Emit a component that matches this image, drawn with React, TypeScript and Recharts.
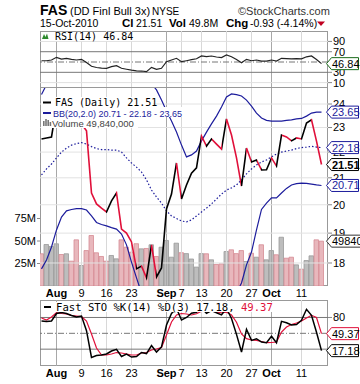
import React from 'react';
import { ComposedChart, Line, Bar, Cell, XAxis, YAxis, ReferenceLine, ReferenceDot } from 'recharts';

const dates = ['Jul 28','Jul 29','Jul 30','Aug 2','Aug 3','Aug 4','Aug 5','Aug 6','Aug 9','Aug 10','Aug 11','Aug 12','Aug 13','Aug 16','Aug 17','Aug 18','Aug 19','Aug 20','Aug 23','Aug 24','Aug 25','Aug 26','Aug 27','Aug 30','Aug 31','Sep 1','Sep 2','Sep 3','Sep 7','Sep 8','Sep 9','Sep 10','Sep 13','Sep 14','Sep 15','Sep 16','Sep 17','Sep 20','Sep 21','Sep 22','Sep 23','Sep 24','Sep 27','Sep 28','Sep 29','Sep 30','Oct 1','Oct 4','Oct 5','Oct 6','Oct 7','Oct 8','Oct 11','Oct 12','Oct 13','Oct 14','Oct 15'];
const tickIdx = [3, 8, 13, 18, 25, 28, 32, 37, 42, 46, 52];
const tickLabels = ['Aug', '9', '16', '23', 'Sep', '7', '13', '20', '27', 'Oct', '11'];
const monthLabels = ['Aug', 'Sep', 'Oct'];

const prevClose = 22.7;
const close = [22.53,22.57,22.61,23.90,23.60,24.10,23.80,23.10,23.15,22.86,20.43,20.03,19.88,19.74,20.14,20.43,19.14,19.00,18.70,17.81,17.90,17.52,18.60,17.55,17.84,19.85,20.39,21.57,20.21,20.73,21.18,21.38,22.65,22.24,22.53,22.32,22.12,23.36,22.69,21.77,20.69,22.16,21.61,21.69,21.30,21.31,21.77,21.45,22.69,22.61,22.45,22.57,22.53,23.19,23.32,22.44,21.51];
const bbUpper = [24.42,24.85,25.0,25.2,25.4,25.5,25.5,25.5,25.5,25.5,25.6,25.7,25.8,25.9,25.9,25.9,26.0,25.9,25.8,25.6,25.4,25.2,24.9,24.62,24.17,23.70,23.27,22.81,22.28,21.81,21.89,22.04,22.45,22.81,23.15,23.48,23.87,24.31,24.44,24.41,24.35,24.17,23.91,23.61,23.40,23.30,23.27,23.27,23.27,23.30,23.32,23.36,23.38,23.48,23.61,23.65,23.65];
const bbMid = [21.11,21.34,21.53,21.77,22.00,22.16,22.28,22.34,22.38,22.32,22.22,22.14,22.10,22.10,22.08,22.08,22.00,21.77,21.57,21.41,21.22,20.92,20.54,20.28,20.06,19.78,19.60,19.51,19.42,19.39,19.46,19.60,19.74,19.88,20.03,20.21,20.39,20.54,20.62,20.73,20.92,21.15,21.34,21.49,21.61,21.69,21.81,21.92,22.00,22.04,22.08,22.14,22.18,22.20,22.23,22.20,22.18];
const bbLower = [17.81,18.10,18.53,19.11,19.56,19.78,19.83,19.86,19.86,19.81,19.60,19.37,19.30,19.25,19.19,19.14,18.97,18.60,18.03,17.52,17.05,16.65,16.20,15.94,15.95,15.86,15.93,16.21,16.56,16.97,17.03,17.16,17.03,16.95,16.91,16.94,16.91,16.77,16.80,17.05,17.36,17.94,18.36,19.11,19.83,20.06,20.25,20.25,20.43,20.60,20.73,20.78,20.80,20.79,20.76,20.73,20.71];
const volume = [35.8,46.1,43.9,46.9,35,35.8,27.6,51.3,22.8,39.4,56.1,36.9,32.8,27.6,33.9,30.2,51.3,43.1,37.6,47,41.3,41.7,45.8,32.8,43.1,50.6,32,47.6,37,36,30,21,36,35.8,29.1,23.9,24.6,38.3,40.2,36,39.4,27.2,36.5,32,45.8,29.1,39.4,34.7,54.2,30.9,32,23.5,18.7,28.3,33.5,51.3,49.84];
const rsi = [52.5,52.5,53.9,59.1,55.8,57.2,55.2,53.9,55.2,49.0,41.7,39.3,38.3,37.8,40.9,42.8,37.8,36.0,34.1,32.9,32.5,31.2,39.7,35.8,37.8,50.6,53.9,57.2,50.6,52.5,54.5,56.4,61.7,60.3,61.7,59.7,58.7,63.6,60.3,54.9,48.6,55.2,52.5,53.9,51.9,51.9,53.9,51.9,57.2,56.6,56.2,56.6,56.2,60.1,61.7,54.9,46.84];
const stoK = [73.3,72.3,73.3,87.5,89.4,87.5,83.7,80.9,82.8,55,4.2,8,8.9,10.8,16.5,19.7,6.1,10.8,5.1,6.1,13.6,11.7,26.9,14.6,24.1,65.7,87.5,97,75.2,80,88,90,98,88,93,89,85,97,78,48,14.6,57.6,36.7,39.8,33.5,32.2,44.3,32.2,72.7,70.1,65.7,66.7,74.6,95.5,84.1,52,17.18];
const stoD = [79,75.2,80.9,89,87.5,86.6,83.7,82.8,81.8,73.3,48.7,22.2,8.9,8.9,10.8,13.6,12.7,10.8,8.9,8.9,12.7,13.6,18.4,20.3,23.1,46.8,71.4,84.7,87.5,86.6,84.7,87,92,94,93,90,89,90,85,71,48.7,40,37.3,36.7,34.5,32.2,32.6,33.5,52.5,61.9,66.7,69.5,73.3,79,84.1,80,49.37];

const priceTicks = [18, 19, 20, 21, 22, 23, 24];
const volTicks = [25, 50, 75];
const rsiTicks = [10, 30, 70, 90];
const stoTicks = [80];

const RED = '#e0103a';
const NAVY = '#1c1c9c';
const FONT = 'Liberation Sans, Arial, sans-serif';
const MONO = 'DejaVu Sans Mono, monospace';
const N = close.length;
const last = N - 1;
const X_DOMAIN: [number, number] = [-0.3, 57.3];
const RSI_DOMAIN: [number, number] = [1.5, 110.2];
const STO_DOMAIN: [number, number] = [-11.9, 113.1];
const PRICE_DOMAIN: [number, number] = [17.266, 24.705];
const VOL_DOMAIN: [number, number] = [0, 220];

const data = dates.map((d, i) => ({
  i,
  date: d,
  close: close[i],
  up: bbUpper[i],
  mid: bbMid[i],
  low: bbLower[i],
  vol: volume[i],
  rsi: rsi[i],
  k: stoK[i],
  d: stoD[i],
}));

const isDown = (i: number) => close[i] < (i === 0 ? prevClose : close[i - 1]);

const DateTick = (props: any) => {
  const { x, y, payload } = props;
  const label = tickLabels[tickIdx.indexOf(payload.value)];
  const bold = monthLabels.includes(label);
  return (
    <text x={x} y={y + 11} textAnchor="middle" fontSize={11} fontWeight={bold ? 'bold' : 'normal'} fontFamily={FONT} fill="#000">
      {label}
    </text>
  );
};

const makeTag = (text: string, color: string, textColor: string, w: number, bold = false) => (props: any) => {
  const { cx, cy } = props;
  if (cx == null || cy == null) return null;
  const x0 = cx + 5;
  const h = 6;
  return (
    <g>
      <polygon
        points={`${x0},${cy} ${x0 + 5},${cy - h} ${x0 + w},${cy - h} ${x0 + w},${cy + h} ${x0 + 5},${cy + h}`}
        fill="#fff"
        stroke={color}
        strokeWidth={1}
      />
      <text x={x0 + 5.5} y={cy + 4} fontSize={11} fontFamily={FONT} fontWeight={bold ? 'bold' : 'normal'} fill={textColor}>
        {text}
      </text>
    </g>
  );
};

const vGrid = (key: string) =>
  tickIdx.map((t, j) => (
    <ReferenceLine
      key={key + t}
      x={t}
      stroke={monthLabels.includes(tickLabels[j]) ? '#a8a8a8' : '#d8d8d8'}
      strokeWidth={1}
      {...(key === 'p' ? { yAxisId: 'price' } : {})}
    />
  ));

const segStops = close.slice(1).flatMap((c, j) => {
  const col = c >= close[j] ? '#000' : RED;
  return [
    <stop key={`a${j}`} offset={j / (N - 1)} stopColor={col} />,
    <stop key={`b${j}`} offset={(j + 1) / (N - 1)} stopColor={col} />,
  ];
});

const fmtInt = (v: number) => Math.round(v * 1e6).toLocaleString('en-US');
const volTagText = String(Math.round(volume[last] * 1e6)).slice(0, 5);

const tickStyle = { fontSize: 11, fill: '#000', fontFamily: FONT };
const abs = (top: number): React.CSSProperties => ({ position: 'absolute', left: 0, top });

export default function App() {
  return (
    <div style={{ position: 'absolute', left: 0, top: 0, width: 360, height: 384, overflow: 'hidden', background: '#fff' }}>
      {/* underlay: borders + header */}
      <svg width={360} height={384} style={{ position: 'absolute', left: 0, top: 0 }}>
        <text x={40} y={15} fontSize={14} fontWeight="bold" fontFamily={FONT} fill="#000">FAS</text>
        <text x={70} y={15} fontSize={11} fontFamily={FONT} fill="#000">(DD Finl Bull 3x)</text>
        <text x={152} y={15} fontSize={10} fontFamily={FONT} fill="#000">NYSE</text>
        <text x={238} y={15} fontSize={11} fontFamily={FONT} fill="#333">©StockCharts.com</text>
        <text x={40} y={27} fontSize={10.5} fontFamily={FONT} fill="#000">15-Oct-2010</text>
        <text x={122} y={27} fontSize={11.5} fontWeight="bold" fontFamily={FONT} fill="#000">Cl</text>
        <text x={136} y={27} fontSize={10.5} fontFamily={FONT} fill="#000">{close[last].toFixed(2)}</text>
        <text x={169} y={27} fontSize={11.5} fontWeight="bold" fontFamily={FONT} fill="#000">Vol</text>
        <text x={189} y={27} fontSize={10.5} fontFamily={FONT} fill="#000">{volume[last].toFixed(1)}M</text>
        <text x={226} y={27} fontSize={11.5} fontWeight="bold" fontFamily={FONT} fill="#000">Chg</text>
        <text x={250} y={27} fontSize={10.5} fontFamily={FONT} fill="#000">
          {(close[last] - close[last - 1]).toFixed(2)} ({(((close[last] - close[last - 1]) / close[last - 1]) * 100).toFixed(2)}%)
        </text>
        <polygon points="317,21.5 325,21.5 321,26" fill="#c00020" />
        <rect x={40.5} y={31.5} width={287} height={56} fill="none" stroke="#999" />
        <rect x={40.5} y={87.5} width={287} height={198} fill="none" stroke="#999" />
        <rect x={40.5} y={300.5} width={287} height={65} fill="none" stroke="#999" />
      </svg>

      {/* RSI panel */}
      <div style={abs(31)}>
        <ComposedChart width={360} height={57} data={data} margin={{ top: 0, right: 0, bottom: 1, left: 40 }}>
          <XAxis type="number" dataKey="i" domain={X_DOMAIN} hide allowDataOverflow />
          <YAxis
            orientation="right"
            width={32}
            domain={RSI_DOMAIN}
            ticks={rsiTicks}
            allowDataOverflow
            axisLine={false}
            tickSize={4}
            tickMargin={1}
            tickLine={{ stroke: '#888' }}
            tick={tickStyle}
            interval={0}
          />
          {vGrid('r')}
          <ReferenceLine y={90} stroke="#e0e0e0" />
          <ReferenceLine y={10} stroke="#e0e0e0" />
          <ReferenceLine y={70} stroke="#777" />
          <ReferenceLine y={30} stroke="#777" />
          <ReferenceLine y={50} stroke="#777" strokeDasharray="6 2 1 2" />
          <Line type="linear" dataKey="rsi" stroke="#222" strokeWidth={1.2} dot={false} isAnimationActive={false} />
        </ComposedChart>
      </div>

      {/* Main panel */}
      <div style={abs(88)}>
        <ComposedChart width={360} height={212} data={data} margin={{ top: 0, right: 0, bottom: 0, left: 0 }}>
          <defs>
            <linearGradient id="closeGrad" x1="0" y1="0" x2="1" y2="0">
              {segStops}
            </linearGradient>
          </defs>
          <XAxis
            type="number"
            dataKey="i"
            domain={X_DOMAIN}
            allowDataOverflow
            ticks={tickIdx}
            interval={0}
            height={14}
            axisLine={false}
            tickLine={false}
            tickSize={0}
            tickMargin={0}
            tick={<DateTick />}
          />
          <YAxis
            yAxisId="vol"
            orientation="left"
            width={40}
            domain={VOL_DOMAIN}
            ticks={volTicks}
            allowDataOverflow
            axisLine={false}
            tickSize={3}
            tickMargin={1}
            tickLine={{ stroke: '#888' }}
            tickFormatter={(v: number) => `${v}M`}
            tick={tickStyle}
            interval={0}
          />
          <YAxis
            yAxisId="price"
            orientation="right"
            width={32}
            scale="log"
            domain={PRICE_DOMAIN}
            ticks={priceTicks}
            allowDataOverflow
            axisLine={false}
            tickSize={4}
            tickMargin={1}
            tickLine={{ stroke: '#888' }}
            tick={tickStyle}
            interval={0}
          />
          {vGrid('p')}
          {priceTicks.map((t) => (
            <ReferenceLine key={'h' + t} yAxisId="price" y={t} stroke="#e2e2e2" />
          ))}
          <Bar yAxisId="vol" dataKey="vol" barSize={5} isAnimationActive={false}>
            {data.map((d) => (
              <Cell
                key={d.i}
                fill={isDown(d.i) ? '#e8b7bc' : '#bdbdbd'}
                stroke={isDown(d.i) ? '#d58c94' : '#9a9a9a'}
                strokeWidth={0.8}
              />
            ))}
          </Bar>
          <Line yAxisId="price" type="linear" dataKey="up" stroke={NAVY} strokeWidth={1.2} dot={false} isAnimationActive={false} />
          <Line yAxisId="price" type="linear" dataKey="low" stroke={NAVY} strokeWidth={1.2} dot={false} isAnimationActive={false} />
          <Line yAxisId="price" type="linear" dataKey="mid" stroke={NAVY} strokeWidth={1.2} strokeDasharray="1.5 2" dot={false} isAnimationActive={false} />
          <Line yAxisId="price" type="linear" dataKey="close" stroke="url(#closeGrad)" strokeWidth={1.6} dot={false} isAnimationActive={false} />
        </ComposedChart>
      </div>

      {/* STO panel */}
      <div style={abs(300)}>
        <ComposedChart width={360} height={80} data={data} margin={{ top: 0, right: 0, bottom: 0, left: 40 }}>
          <XAxis
            type="number"
            dataKey="i"
            domain={X_DOMAIN}
            allowDataOverflow
            ticks={tickIdx}
            interval={0}
            height={14}
            axisLine={false}
            tickLine={false}
            tickSize={0}
            tickMargin={0}
            tick={<DateTick />}
          />
          <YAxis
            orientation="right"
            width={32}
            domain={STO_DOMAIN}
            ticks={stoTicks}
            allowDataOverflow
            axisLine={false}
            tickSize={4}
            tickMargin={1}
            tickLine={{ stroke: '#888' }}
            tick={tickStyle}
            interval={0}
          />
          {vGrid('s')}
          <ReferenceLine y={80} stroke="#777" />
          <ReferenceLine y={20} stroke="#777" />
          <ReferenceLine y={50} stroke="#777" strokeDasharray="6 2 1 2" />
          <Line type="linear" dataKey="d" stroke={RED} strokeWidth={1.2} dot={false} isAnimationActive={false} />
          <Line type="linear" dataKey="k" stroke="#000" strokeWidth={1.5} dot={false} isAnimationActive={false} />
        </ComposedChart>
      </div>

      {/* tag overlays (same scales, hidden axes) */}
      <div style={abs(31)}>
        <ComposedChart width={360} height={57} data={data} margin={{ top: 0, right: 32, bottom: 1, left: 40 }}>
          <XAxis type="number" dataKey="i" domain={X_DOMAIN} hide allowDataOverflow />
          <YAxis domain={RSI_DOMAIN} hide allowDataOverflow />
          <ReferenceDot x={last} y={rsi[last]} r={0} ifOverflow="visible" shape={makeTag(rsi[last].toFixed(2), '#1a6b1a', '#000', 32)} />
        </ComposedChart>
      </div>
      <div style={abs(88)}>
        <ComposedChart width={360} height={212} data={data} margin={{ top: 0, right: 32, bottom: 14, left: 40 }}>
          <XAxis type="number" dataKey="i" domain={X_DOMAIN} hide allowDataOverflow />
          <YAxis yAxisId="vol" domain={VOL_DOMAIN} hide allowDataOverflow />
          <YAxis yAxisId="price" scale="log" domain={PRICE_DOMAIN} hide allowDataOverflow />
          <ReferenceDot yAxisId="vol" x={last} y={volume[last]} r={0} ifOverflow="visible" shape={makeTag(volTagText, '#333', '#000', 40)} />
          <ReferenceDot yAxisId="price" x={last} y={bbUpper[last]} r={0} ifOverflow="visible" shape={makeTag(bbUpper[last].toFixed(2), NAVY, NAVY, 32)} />
          <ReferenceDot yAxisId="price" x={last} y={bbMid[last]} r={0} ifOverflow="visible" shape={makeTag(bbMid[last].toFixed(2), NAVY, NAVY, 32)} />
          <ReferenceDot yAxisId="price" x={last} y={bbLower[last]} r={0} ifOverflow="visible" shape={makeTag(bbLower[last].toFixed(2), NAVY, NAVY, 32)} />
          <ReferenceDot yAxisId="price" x={last} y={close[last]} r={0} ifOverflow="visible" shape={makeTag(close[last].toFixed(2), '#000', '#000', 32, true)} />
        </ComposedChart>
      </div>
      <div style={abs(300)}>
        <ComposedChart width={360} height={80} data={data} margin={{ top: 0, right: 32, bottom: 14, left: 40 }}>
          <XAxis type="number" dataKey="i" domain={X_DOMAIN} hide allowDataOverflow />
          <YAxis domain={STO_DOMAIN} hide allowDataOverflow />
          <ReferenceDot x={last} y={stoD[last]} r={0} ifOverflow="visible" shape={makeTag(stoD[last].toFixed(2), RED, '#000', 32)} />
          <ReferenceDot x={last} y={stoK[last]} r={0} ifOverflow="visible" shape={makeTag(stoK[last].toFixed(2), '#000', '#000', 32)} />
        </ComposedChart>
      </div>

      {/* overlay legends */}
      <svg width={360} height={384} style={{ position: 'absolute', left: 0, top: 0, pointerEvents: 'none' }}>
        <rect x={41} y={32} width={93} height={9} fill="#fff" />
        <path d="M42,39 L44,34 L45.5,37 L47,33.5 L48.5,39 Z" fill="#2e8b2e" />
        <text x={55} y={39.5} fontSize={10} fontFamily={MONO} fill="#000">RSI(14) {rsi[last].toFixed(2)}</text>

        <rect x={41} y={97} width={112} height={10} fill="#fff" />
        <rect x={41} y={107} width={148} height={10} fill="#fff" />
        <rect x={41} y={117} width={97} height={11} fill="#fff" />
        <line x1={43} x2={51} y1={102.5} y2={102.5} stroke="#000" strokeWidth={2} />
        <text x={55} y={106} fontSize={10} fontFamily={MONO} fill="#000">FAS (Daily) {close[last].toFixed(2)}</text>
        <line x1={43} x2={51} y1={113} y2={113} stroke={NAVY} strokeWidth={2} />
        <text x={53} y={116.5} fontSize={9} fontFamily={FONT} fill={NAVY}>
          BB(20,2.0) {bbLower[last].toFixed(2)} - {bbMid[last].toFixed(2)} - {bbUpper[last].toFixed(2)}
        </text>
        <rect x={43} y={121} width={1.6} height={5} fill="#777" />
        <rect x={45.2} y={119} width={1.6} height={7} fill="#777" />
        <rect x={47.4} y={120} width={1.6} height={6} fill="#777" />
        <rect x={49.6} y={122} width={1.6} height={4} fill="#777" />
        <text x={52} y={126.5} fontSize={9.5} fontFamily={FONT} fill="#444">Volume {fmtInt(volume[last])}</text>

        <rect x={41} y={302} width={235} height={10} fill="#fff" />
        <line x1={44} x2={51} y1={307} y2={307} stroke="#000" strokeWidth={2} />
        <text x={56} y={311} fontSize={10.6} fontFamily={MONO} fill="#000">
          Fast STO %K(14) %D(3) {stoK[last].toFixed(2)}, <tspan fill={RED}>{stoD[last].toFixed(2)}</tspan>
        </text>
      </svg>
    </div>
  );
}
